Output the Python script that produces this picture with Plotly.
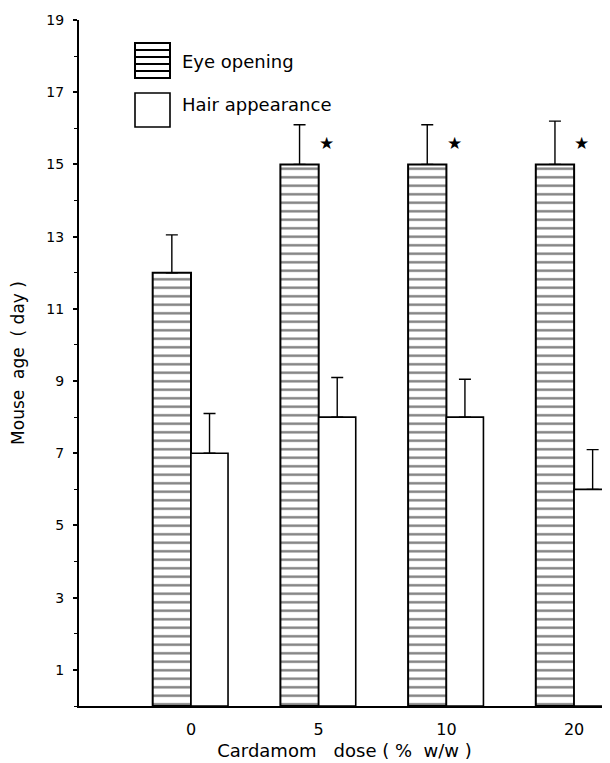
import plotly.graph_objects as go

doses = ["0", "5", "10", "20"]
eye_opening = [12, 15, 15, 15]
eye_err = [1.05, 1.1, 1.1, 1.2]
hair_appearance = [7, 8, 8, 6]
hair_err = [1.1, 1.1, 1.05, 1.1]
significant = [False, True, True, True]
y_tick_vals = [1, 3, 5, 7, 9, 11, 13, 15, 17, 19]

xpos = list(range(len(doses)))
FONT = "DejaVu Sans"

fig = go.Figure()
fig.add_trace(go.Bar(
    x=xpos, y=eye_opening, name="Eye opening",
    width=0.3, offset=-0.3,
    marker=dict(color="white", line=dict(color="black", width=2),
                pattern=dict(shape="-", fgcolor="black", bgcolor="white", size=8.5, solidity=0.28)),
    error_y=dict(type="data", symmetric=False, array=eye_err, arrayminus=[0]*4,
                 color="black", thickness=1.4, width=6),
))
fig.add_trace(go.Bar(
    x=xpos, y=hair_appearance, name="Hair appearance",
    width=0.29, offset=0,
    marker=dict(color="white", line=dict(color="black", width=1.6)),
    error_y=dict(type="data", symmetric=False, array=hair_err, arrayminus=[0]*4,
                 color="black", thickness=1.4, width=6),
))

# significance stars
for i, s in enumerate(significant):
    if s:
        fig.add_annotation(x=xpos[i] + 0.06, y=eye_opening[i] + 0.6, xref="x", yref="y",
                           text="★", showarrow=False, font=dict(size=17, color="black", family=FONT))

# manual legend (positions given in page pixels, converted to paper coords)
def px2paper(px, py):
    return (px - 79) / 531, (706 - py) / 686

x0, y0 = px2paper(135, 43)
x1, y1 = px2paper(170, 78)
fig.add_shape(type="rect", xref="paper", yref="paper", x0=x0, x1=x1, y0=y1, y1=y0,
              line=dict(color="black", width=2), fillcolor="white")
for py in [50, 57, 64, 71]:
    _, yy = px2paper(0, py)
    fig.add_shape(type="line", xref="paper", yref="paper", x0=x0, x1=x1, y0=yy, y1=yy,
                  line=dict(color="black", width=1.8))
hx0, hy0 = px2paper(135, 93)
hx1, hy1 = px2paper(170, 127)
fig.add_shape(type="rect", xref="paper", yref="paper", x0=hx0, x1=hx1, y0=hy1, y1=hy0,
              line=dict(color="black", width=1.6), fillcolor="white")
tx, ty = px2paper(180, 62)
fig.add_annotation(x=tx, y=ty, xref="paper", yref="paper", text="Eye opening", showarrow=False,
                   xanchor="left", yanchor="middle", font=dict(size=18, color="black", family=FONT))
tx, ty = px2paper(180, 105)
fig.add_annotation(x=tx, y=ty, xref="paper", yref="paper", text="Hair appearance", showarrow=False,
                   xanchor="left", yanchor="middle", font=dict(size=18, color="black", family=FONT))

# page body has an 8px margin: compensate so the plot area sits at x 79..610, y 20..706
fig.update_layout(
    width=602, height=755,
    margin=dict(l=71, r=0, t=12, b=57),
    paper_bgcolor="white", plot_bgcolor="white",
    showlegend=False,
    font=dict(family=FONT, color="black"),
    barmode="overlay",
)
fig.update_xaxes(
    range=[-0.877, 3.281], tickvals=xpos, ticktext=doses, ticks="",
    showline=True, linecolor="black", linewidth=2, showgrid=False, zeroline=False,
    tickfont=dict(size=16), ticklabelstandoff=8,
    title=dict(text="Cardamom   dose ( %  w/w )", font=dict(size=18), standoff=6),
)
fig.update_yaxes(
    range=[0, 19], tickvals=y_tick_vals, ticks="outside", ticklen=4, tickwidth=1.5, tickcolor="black",
    minor=dict(tick0=0, dtick=2, ticks="outside", ticklen=3, tickwidth=1.2, tickcolor="black"),
    showline=True, linecolor="black", linewidth=2, showgrid=False, zeroline=False,
    tickfont=dict(size=14), ticklabelstandoff=6,
    title=dict(text="Mouse  age  ( day )", font=dict(size=17), standoff=18),
)

fig.write_html("out.html")
